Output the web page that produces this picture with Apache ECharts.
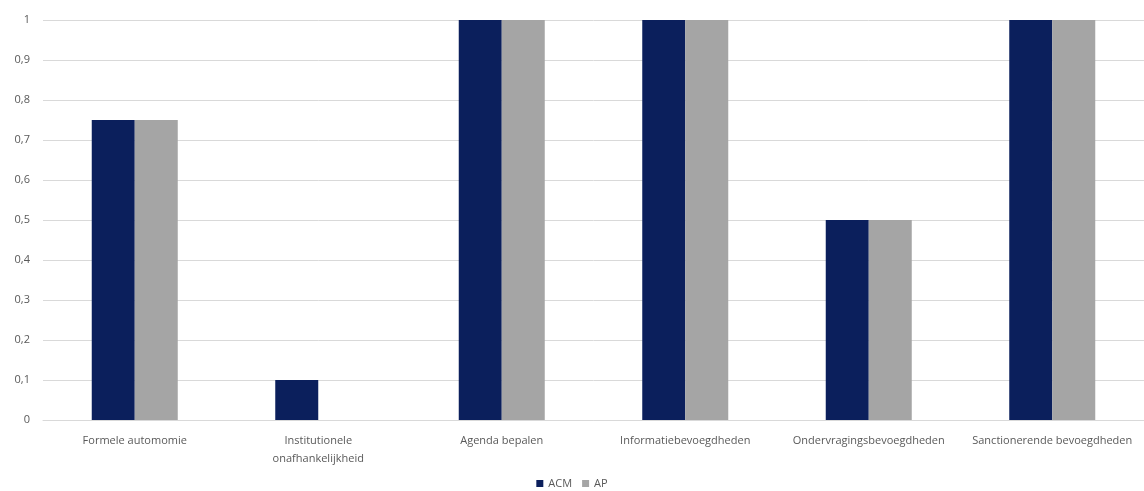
<!DOCTYPE html>
<html><head><meta charset="utf-8">
<script src="https://cdn.jsdelivr.net/npm/echarts@6/dist/echarts.min.js"></script>
<style>html,body{margin:0;padding:0;background:#fff}#c{width:1144px;height:491px}</style>
</head><body><div id="c"></div>
<script>
var categories = ['Formele automomie', 'Institutionele\nonafhankelijkheid', 'Agenda bepalen', 'Informatiebevoegdheden', 'Ondervragingsbevoegdheden', 'Sanctionerende bevoegdheden'];
var acm = [0.75, 0.1, 1, 1, 0.5, 1];
var ap = [0.75, 0, 1, 1, 0.5, 1];
var yTicks = ['0','0,1','0,2','0,3','0,4','0,5','0,6','0,7','0,8','0,9','1'];
var chart = echarts.init(document.getElementById('c'));
chart.setOption({
  animation: false,
  grid: {left: 43, right: 0, top: 20, bottom: 71},
  legend: {top: 473, left: 'center', itemWidth: 7, itemHeight: 7, itemGap: 10,
    textStyle: {fontSize: 11, color: '#595959', fontFamily: 'Open Sans'},
    icon: 'rect', data: ['ACM', 'AP']},
  xAxis: {type: 'category', data: categories,
    axisLine: {lineStyle: {color: '#d9d9d9'}}, axisTick: {show: false},
    axisLabel: {fontSize: 11, color: '#595959', fontFamily: 'Open Sans', margin: 12, interval: 0, lineHeight: 18}},
  yAxis: {type: 'value', min: 0, max: 1, interval: 0.1,
    axisLine: {show: false}, axisTick: {show: false},
    splitLine: {lineStyle: {color: '#d9d9d9'}},
    axisLabel: {fontSize: 11, color: '#595959', fontFamily: 'Open Sans', margin: 13,
      formatter: function(v){ return yTicks[Math.round(v*10)]; }}},
  series: [
    {name: 'ACM', type: 'bar', data: acm, barWidth: 43, barGap: '0%', itemStyle: {color: '#0b1f5c'}},
    {name: 'AP', type: 'bar', data: ap, barWidth: 43, barGap: '0%', itemStyle: {color: '#a5a5a5'}}
  ]
});
</script></body></html>
